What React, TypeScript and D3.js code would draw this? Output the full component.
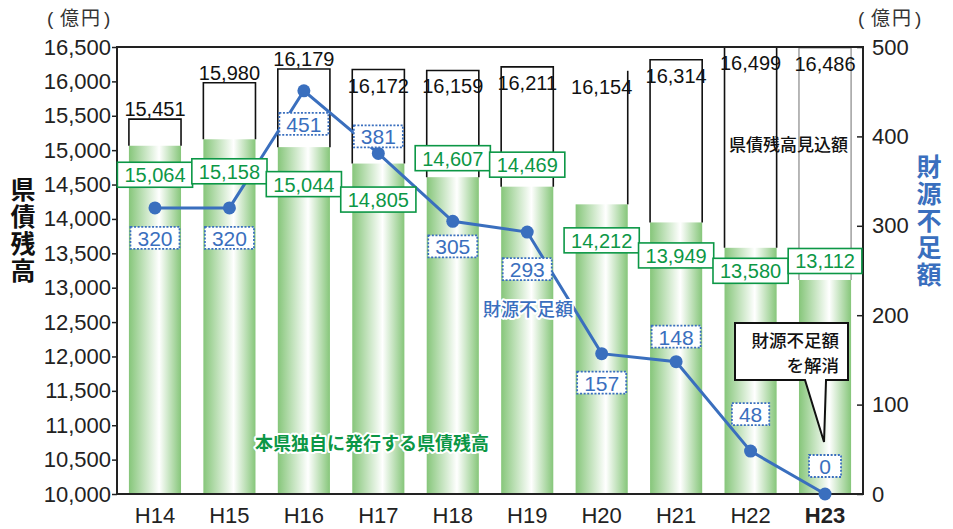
import React, { useEffect, useRef } from 'react'
import * as d3 from 'd3'

const years = ['H14', 'H15', 'H16', 'H17', 'H18', 'H19', 'H20', 'H21', 'H22', 'H23']
// 県債残高見込額 (億円)
const projectedDebt = [15451, 15980, 16179, 16172, 16159, 16211, 16154, 16314, 16499, 16486]
// 本県独自に発行する県債残高 (億円)
const ownDebt = [15064, 15158, 15044, 14805, 14607, 14469, 14212, 13949, 13580, 13112]
// 財源不足額 (億円)
const shortfall = [320, 320, 451, 381, 305, 293, 157, 148, 48, 0]

const debtTicks = [10000, 10500, 11000, 11500, 12000, 12500, 13000, 13500, 14000, 14500, 15000, 15500, 16000, 16500]
const shortfallTicks = [0, 100, 200, 300, 400, 500]

// label nudges in px
const ownLabelDy = [29, 32, 37, 36, -19, -22, 36, 33, 23, -19]
const shortfallLabelDy = [30, 30, 33, -17, 25, 37, 29, -25, -37, -28]
const openBoxes = ['H20']
const targetYear = 'H23'

const W = 953
const H = 529
const plot = { left: 117, right: 863, top: 47, bottom: 494 }
const GREEN = '#0c9746'
const BLUE = '#3a6fbe'
const NUM = '"Liberation Sans", Arial, sans-serif'
const NARROW = '"Liberation Sans Narrow", "Arial Narrow", "Liberation Sans", sans-serif'
const JP = '"Noto Sans CJK JP", "Noto Sans", sans-serif'

export default function App() {
  const ref = useRef<SVGSVGElement>(null)

  useEffect(() => {
    document.body.style.margin = '0'
    const svg = d3.select(ref.current)
    svg.selectAll('*').remove()

    const x = d3.scaleBand().domain(years).range([plot.left, plot.right]).paddingInner(0.3).paddingOuter(0.16)
    const bw = x.bandwidth()
    const cx = (d: string) => (x(d) as number) + bw / 2
    const yL = d3.scaleLinear().domain([10000, 16500]).range([plot.bottom, plot.top])
    const yR = d3.scaleLinear().domain([0, 500]).range([plot.bottom, plot.top])

    const grad = svg.append('defs').append('linearGradient').attr('id', 'barGrad')
      .attr('x1', 0).attr('x2', 1).attr('y1', 0).attr('y2', 0)
    grad.append('stop').attr('offset', '0%').attr('stop-color', '#86c67a')
    grad.append('stop').attr('offset', '58%').attr('stop-color', '#ffffff')
    grad.append('stop').attr('offset', '100%').attr('stop-color', '#86c67a')

    // green bars
    svg.append('g').selectAll('rect').data(years).join('rect')
      .attr('x', d => x(d) as number)
      .attr('y', (d, i) => yL(ownDebt[i]))
      .attr('width', bw)
      .attr('height', (d, i) => plot.bottom - yL(ownDebt[i]))
      .attr('fill', 'url(#barGrad)')

    // projected boxes on top of the bars
    svg.append('g').selectAll('path').data(years).join('path')
      .attr('d', (d, i) => {
        const x0 = x(d) as number, x1 = x0 + bw
        const yT = yL(projectedDebt[i]), yG = yL(ownDebt[i])
        if (openBoxes.includes(d)) return `M${x1},${yT}V${yG}`
        return `M${x0},${yG}V${yT}H${x1}V${yG}`
      })
      .attr('fill', 'none')
      .attr('stroke', d => d === targetYear ? '#888' : '#111')
      .attr('stroke-width', d => d === targetYear ? 1.2 : 1.6)

    // frame
    svg.append('path')
      .attr('d', `M${plot.left},${plot.top}V${plot.bottom}H${plot.right}V${plot.top}Z`)
      .attr('fill', 'none').attr('stroke', '#222').attr('stroke-width', 2)

    // left axis
    const la = svg.append('g').attr('transform', `translate(${plot.left},0)`)
      .call(d3.axisLeft(yL).tickValues(debtTicks).tickFormat(d3.format(',')).tickSize(5).tickSizeOuter(0).tickPadding(1))
    la.select('.domain').remove()
    la.selectAll('line').attr('stroke', '#222').attr('stroke-width', 1.5)
    la.selectAll('text').attr('font-family', NUM).attr('font-size', 22).attr('fill', '#222')

    // right axis
    const ra = svg.append('g').attr('transform', `translate(${plot.right},0)`)
      .call(d3.axisRight(yR).tickValues(shortfallTicks).tickSize(-6).tickSizeOuter(0).tickPadding(9))
    ra.select('.domain').remove()
    ra.selectAll('line').attr('stroke', '#222').attr('stroke-width', 1.5)
    ra.selectAll('text').attr('font-family', NUM).attr('font-size', 22).attr('fill', '#222')

    // x labels
    svg.append('g').selectAll('text').data(years).join('text')
      .attr('x', d => cx(d)).attr('y', 523)
      .attr('text-anchor', 'middle')
      .attr('font-family', NUM).attr('font-size', 22)
      .attr('font-weight', d => d === targetYear ? 'bold' : 'normal')
      .attr('fill', '#222')
      .text(d => d)

    // projected values
    svg.append('g').selectAll('text').data(years).join('text')
      .attr('x', d => cx(d))
      .attr('y', (d, i) => yL(projectedDebt[i]) + (i < 3 ? -3 : 23))
      .attr('text-anchor', 'middle')
      .attr('font-family', NARROW).attr('font-size', 20).attr('fill', '#111')
      .text((d, i) => d3.format(',')(projectedDebt[i]))

    // shortfall line
    const line = d3.line<string>().x(d => cx(d)).y((d, i) => yR(shortfall[i]))
    svg.append('path').datum(years).attr('d', line)
      .attr('fill', 'none').attr('stroke', BLUE).attr('stroke-width', 3)
    svg.append('g').selectAll('circle').data(years).join('circle')
      .attr('cx', d => cx(d)).attr('cy', (d, i) => yR(shortfall[i])).attr('r', 6.5)
      .attr('fill', BLUE)

    // own debt labels
    const gl = svg.append('g').selectAll('g').data(years).join('g')
      .attr('transform', (d, i) => `translate(${cx(d)},${yL(ownDebt[i]) + ownLabelDy[i]})`)
    const glRect = gl.append('rect').attr('fill', '#fff').attr('stroke', GREEN).attr('stroke-width', 1.6)
    gl.append('text').attr('text-anchor', 'middle').attr('y', 7.5)
      .attr('font-family', NARROW).attr('font-size', 20).attr('fill', GREEN)
      .text((d, i) => d3.format(',')(ownDebt[i]))
    glRect.each(function () {
      const t = (this.parentNode as SVGGElement).querySelector('text') as SVGTextElement
      const w = t.getComputedTextLength() + 14
      d3.select(this).attr('x', -w / 2).attr('y', -12.5).attr('width', w).attr('height', 25)
    })

    // shortfall labels
    const bl = svg.append('g').selectAll('g').data(years).join('g')
      .attr('transform', (d, i) => `translate(${cx(d)},${yR(shortfall[i]) + shortfallLabelDy[i]})`)
    const blRect = bl.append('rect').attr('fill', '#fff').attr('stroke', BLUE)
      .attr('stroke-width', 1.8).attr('stroke-dasharray', '2,1.6')
    bl.append('text').attr('text-anchor', 'middle').attr('y', 8)
      .attr('font-family', NUM).attr('font-size', 21).attr('fill', BLUE)
      .text((d, i) => shortfall[i])
    blRect.each(function () {
      const t = (this.parentNode as SVGGElement).querySelector('text') as SVGTextElement
      const w = Math.max(t.getComputedTextLength() + 14, 32)
      d3.select(this).attr('x', -w / 2).attr('y', -11).attr('width', w).attr('height', 22)
    })

    // series notes
    const halo = (s: d3.Selection<SVGTextElement, unknown, null, undefined>) =>
      s.attr('stroke', '#fff').attr('stroke-width', 4).attr('stroke-linejoin', 'round').attr('paint-order', 'stroke')
    svg.append('text').attr('x', 255).attr('y', 442).attr('dominant-baseline', 'central')
      .attr('font-family', JP).attr('font-size', 18).attr('font-weight', 'bold').attr('fill', GREEN)
      .text('本県独自に発行する県債残高').call(halo)
    svg.append('text').attr('x', 483).attr('y', 308).attr('dominant-baseline', 'central')
      .attr('font-family', JP).attr('font-size', 18).attr('font-weight', 500).attr('fill', BLUE)
      .text('財源不足額').call(halo)
    svg.append('text').attr('x', 729).attr('y', 143).attr('dominant-baseline', 'central')
      .attr('font-family', JP).attr('font-size', 17).attr('font-weight', 500).attr('fill', '#111')
      .text('県債残高見込額')

    // callout
    const tipX = cx(targetYear)
    svg.append('path')
      .attr('d', `M735,323H848V380H${tipX + 1}L${tipX - 1},442L805,380H735Z`)
      .attr('fill', '#fff').attr('stroke', '#111').attr('stroke-width', 2)
    ;['財源不足額', 'を解消'].forEach((s, i) => {
      svg.append('text').attr('x', 839).attr('y', 339 + i * 25.5).attr('dominant-baseline', 'central')
        .attr('text-anchor', 'end').attr('font-family', JP).attr('font-size', 17.5).attr('font-weight', 500)
        .attr('fill', '#111').text(s)
    })

    // unit labels
    ;[47, 858].forEach(ux => {
      const u = svg.append('text').attr('y', 25).attr('font-size', 19).attr('fill', '#333')
      u.append('tspan').attr('x', ux).attr('font-family', NUM).text('(')
      u.append('tspan').attr('x', ux + 13).attr('font-family', JP).attr('letter-spacing', 2).text('億円')
      u.append('tspan').attr('x', ux + 57).attr('font-family', NUM).text(')')
    })

    // axis titles (vertical)
    svg.append('text').attr('x', 23).attr('y', 177)
      .attr('writing-mode', 'vertical-rl').attr('letter-spacing', 2)
      .attr('font-family', JP).attr('font-size', 25).attr('font-weight', 'bold')
      .attr('fill', '#111').text('県債残高')
    svg.append('text').attr('x', 929).attr('y', 154)
      .attr('writing-mode', 'vertical-rl').attr('letter-spacing', 2)
      .attr('font-family', JP).attr('font-size', 25).attr('font-weight', 'bold')
      .attr('fill', BLUE).text('財源不足額')
  }, [])

  return <svg ref={ref} width={W} height={H} style={{ display: 'block', background: '#fff' }} />
}
